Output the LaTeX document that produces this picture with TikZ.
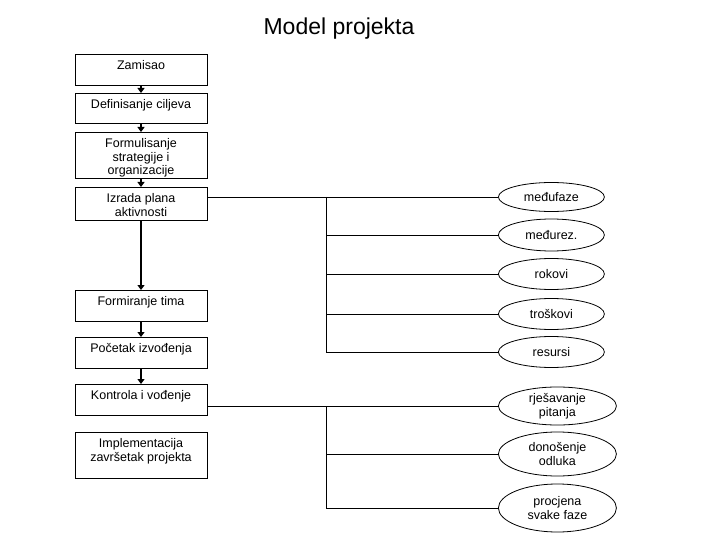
\documentclass[tikz,border=0pt]{standalone}
\usepackage{fontspec}
\setmainfont{Liberation Sans}
\usetikzlibrary{positioning, shapes.geometric, arrows.meta}

\begin{document}
\begin{tikzpicture}[x=1pt, y=-1pt,
    stepbox/.style={draw, line width=0.8pt, minimum width=132pt, anchor=north, inner sep=0pt},
    boxtext/.style={anchor=north, inner sep=0pt, yshift=-6.5pt, align=center, font=\fontsize{12.5}{13.5}\selectfont},
    oval/.style={ellipse, draw, line width=0.8pt, anchor=west, inner sep=0pt, minimum width=106pt, minimum height=#1, align=center, font=\fontsize{12.5}{13.5}\selectfont},
    wideoval/.style={oval=#1, minimum width=118pt},
    flow/.style={-{Triangle[length=5pt, width=7pt]}, line width=1.8pt},
    bus/.style={line width=0.8pt}]
        \useasboundingbox (0,0) rectangle (720,540);
        \node[font=\fontsize{23}{26}\selectfont, anchor=base] (title) at (339,35) {Model projekta};
        % left column
        \node[stepbox, minimum height=31pt, label={[boxtext]north:Zamisao}] (zam) at (141,54) {};
        \node[stepbox, minimum height=30pt, label={[boxtext]north:Definisanje ciljeva}] (cilj) at (141,93) {};
        \node[stepbox, minimum height=46pt, label={[boxtext]north:{Formulisanje\\strategije i\\organizacije}}] (strat) at (141,132) {};
        \node[stepbox, minimum height=33pt, label={[boxtext]north:{Izrada plana\\aktivnosti}}] (plan) at (141,187) {};
        \node[stepbox, minimum height=31pt, label={[boxtext]north:Formiranje tima}] (tim) at (141,290) {};
        \node[stepbox, minimum height=31pt, label={[boxtext]north:Početak izvođenja}] (poc) at (141,337) {};
        \node[stepbox, minimum height=31pt, label={[boxtext]north:Kontrola i vođenje}] (kon) at (141,384) {};
        \node[stepbox, minimum height=46pt, label={[boxtext]north:{Implementacija\\završetak projekta}}] (impl) at (141,432) {};
        \draw[flow] (zam) -- (cilj);
        \draw[flow] (cilj) -- (strat);
        \draw[flow] (strat) -- (plan);
        \draw[flow, line width=2.2pt] (plan) -- (tim);
        \draw[flow] (tim) -- (poc);
        \draw[flow] (poc) -- (kon);
        % right column
        \node[oval=29pt] (faze) at (498,197) {međufaze};
        \node[oval=32pt] (rez) at (498,235) {međurez.};
        \node[oval=31pt] (rok) at (498,274) {rokovi};
        \node[oval=31pt] (tros) at (498,314) {troškovi};
        \node[oval=31pt] (res) at (498,352) {resursi};
        \node[wideoval=38pt] (rjes) at (498,406) {rješavanje\\pitanja};
        \node[wideoval=44pt] (odl) at (498,454) {donošenje\\odluka};
        \node[wideoval=48pt] (proc) at (498,508) {procjena\\svake faze};
        \coordinate (bus) at (326,0);
        \draw[bus] (plan.east |- faze.west) -- (faze.west);
        \draw[bus] (bus |- faze.west) -- (bus |- res.west) -- (res.west);
        \foreach \n in {rez, rok, tros}
            \draw[bus] (bus |- \n.west) -- (\n.west);
        \draw[bus] (kon.east |- rjes.west) -- (rjes.west);
        \draw[bus] (bus |- rjes.west) -- (bus |- proc.west) -- (proc.west);
        \draw[bus] (bus |- odl.west) -- (odl.west);
    \end{tikzpicture}
\end{document}
